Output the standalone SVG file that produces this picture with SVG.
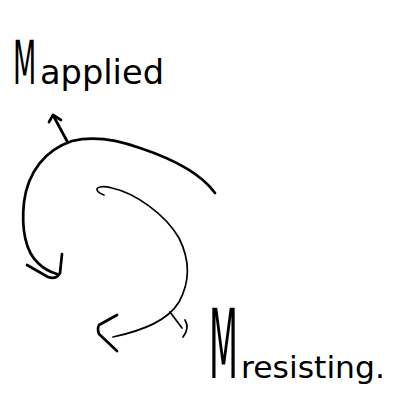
<svg xmlns="http://www.w3.org/2000/svg" width="401" height="415" viewBox="0 0 401 415">
<style>
.thick{fill:none;stroke:#000;stroke-width:2.7;stroke-linecap:round;stroke-linejoin:round}
.thin{fill:none;stroke:#000;stroke-width:1.7;stroke-linecap:round;stroke-linejoin:round}
.big{font-family:"DejaVu Sans","Liberation Sans",sans-serif;font-weight:normal;fill:#000}
</style>
<rect width="401" height="415" fill="#fff"/>
<g id="connectors">
<path class="thick" d="M215,193 C200,172 170,158 140,148 C115,139 92,136 72,141 C45,150 28,172 24,202 C21,230 26,252 38,263 C44,269 50,272 57,274"/>
<path class="thick" d="M27,265 L48,277 Q56,280 60,273 L62,254"/>
<path class="thick" d="M67,141 L54,117"/>
<path class="thick" d="M49,122 L53,115 L61,120"/>
<path class="thin" d="M104,195 C96,192 95,188 100,187 C104,186 108,187 112,188 C135,193 165,214 179,238 C190,260 190,282 179,302 C168,320 145,330 113,337"/>
<path class="thick" d="M117,315 L99,325 Q97,329 99,334 L117,351"/>
<path class="thin" d="M170,312 L182,328"/>
<path class="thin" d="M185,320 Q190,328 183,337"/>
</g>
<g id="node-applied">
<text class="big" transform="translate(13,84) scale(0.45,1)" font-size="60">M</text>
<text class="big" x="40" y="84" font-size="34" textLength="124" lengthAdjust="spacingAndGlyphs">applied</text>
</g>
<g id="node-resisting">
<text class="big" transform="translate(209,378) scale(0.35,1)" font-size="96">M</text>
<text class="big" x="241" y="378" font-size="30" textLength="144" lengthAdjust="spacingAndGlyphs">resisting.</text>
</g>
</svg>
